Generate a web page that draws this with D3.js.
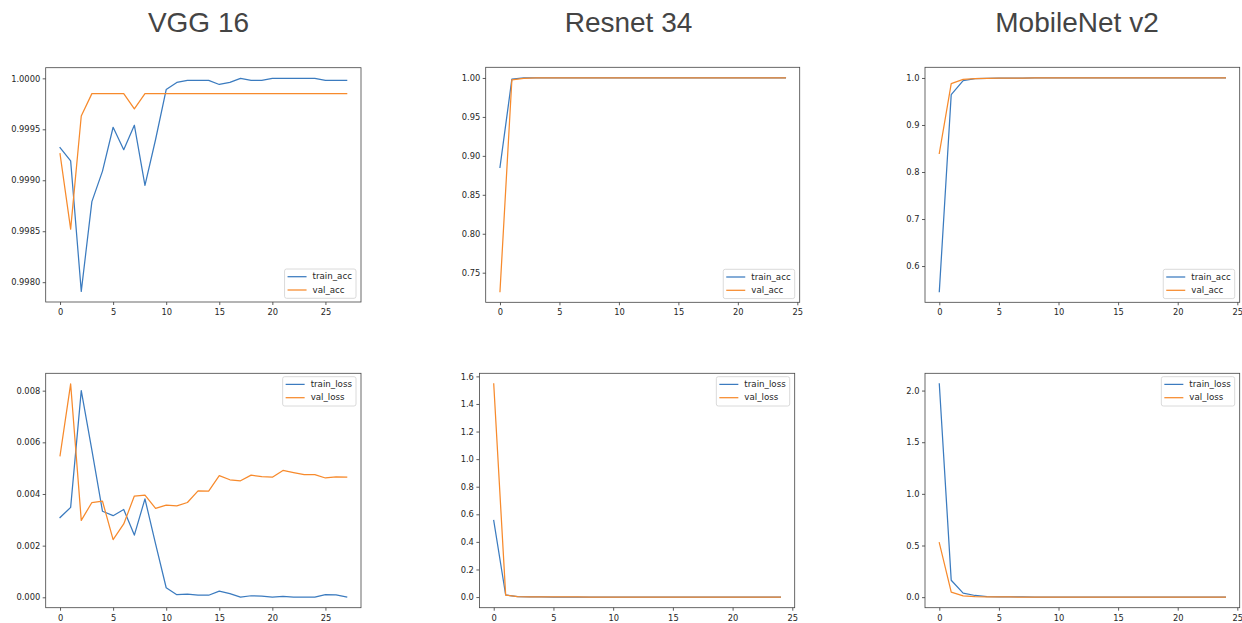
<!DOCTYPE html>
<html>
<head>
<meta charset="utf-8">
<script src="https://cdn.jsdelivr.net/npm/d3@7"></script>
<style>
  html, body { margin: 0; padding: 0; background: #fff; }
  svg { display: block; }
</style>
</head>
<body>
<svg id="chart" width="1242" height="623"></svg>
<script>
// ---------------- DATA ----------------
const titles = ["VGG 16", "Resnet 34", "MobileNet v2"];
const accLabels = ["train_acc", "val_acc"];
const lossLabels = ["train_loss", "val_loss"];
const xTicks = [0, 5, 10, 15, 20, 25];

const vggTrainAcc = [0.99932, 0.99919, 0.99791, 0.99879, 0.99909, 0.99952, 0.99930, 0.99954, 0.99895, 0.99940,
  0.99989, 0.99996, 0.99998, 0.99998, 0.99998, 0.99994, 0.99996, 1.00000, 0.99998, 0.99998,
  1.00000, 1.00000, 1.00000, 1.00000, 1.00000, 0.99998, 0.99998, 0.99998];
const vggValAcc = [0.99926, 0.99852, 0.99963, 0.99985, 0.99985, 0.99985, 0.99985, 0.99970, 0.99985, 0.99985,
  0.99985, 0.99985, 0.99985, 0.99985, 0.99985, 0.99985, 0.99985, 0.99985, 0.99985, 0.99985,
  0.99985, 0.99985, 0.99985, 0.99985, 0.99985, 0.99985, 0.99985, 0.99985];
const vggTrainLoss = [0.00309, 0.00348, 0.00800, 0.00570, 0.00333, 0.00316, 0.00340, 0.00241, 0.00381, 0.00207,
  0.00037, 0.00010, 0.00012, 0.00008, 0.00008, 0.00024, 0.00014, 0.00001, 0.00006, 0.00005,
  0.00001, 0.00004, 0.00001, 0.00001, 0.00001, 0.00010, 0.00009, 0.00001];
const vggValLoss = [0.00548, 0.00826, 0.00298, 0.00367, 0.00372, 0.00223, 0.00284, 0.00392, 0.00396, 0.00344,
  0.00357, 0.00354, 0.00367, 0.00412, 0.00411, 0.00471, 0.00455, 0.00451, 0.00473, 0.00467,
  0.00465, 0.00491, 0.00483, 0.00475, 0.00475, 0.00462, 0.00466, 0.00465];

const resTrainAcc = [0.8852, 0.9985, 1.0000, 1.0000, 1.0000, 1.0000, 1.0000, 1.0000, 1.0000, 1.0000,
  1.0000, 1.0000, 1.0000, 1.0000, 1.0000, 1.0000, 1.0000, 1.0000, 1.0000, 1.0000,
  1.0000, 1.0000, 1.0000, 1.0000, 1.0000];
const resValAcc = [0.7257, 0.9975, 0.9995, 1.0000, 1.0000, 1.0000, 1.0000, 1.0000, 1.0000, 1.0000,
  1.0000, 1.0000, 1.0000, 1.0000, 1.0000, 1.0000, 1.0000, 1.0000, 1.0000, 1.0000,
  1.0000, 1.0000, 1.0000, 1.0000, 1.0000];
const resTrainLoss = [0.555, 0.015, 0.003, 0.001, 0.0005, 0.0004, 0.0003, 0.0003, 0.0002, 0.0002,
  0.0002, 0.0002, 0.0001, 0.0001, 0.0001, 0.0001, 0.0001, 0.0001, 0.0001, 0.0001,
  0.0001, 0.0001, 0.0001, 0.0001, 0.0001];
const resValLoss = [1.545, 0.014, 0.004, 0.002, 0.001, 0.0008, 0.0006, 0.0005, 0.0004, 0.0004,
  0.0003, 0.0003, 0.0003, 0.0002, 0.0002, 0.0002, 0.0002, 0.0002, 0.0002, 0.0002,
  0.0002, 0.0002, 0.0002, 0.0002, 0.0002];

const mobTrainAcc = [0.5456, 0.9647, 0.9943, 0.9986, 0.9993, 0.9997, 0.9998, 0.9999, 1.0000, 1.0000,
  1.0000, 1.0000, 1.0000, 1.0000, 1.0000, 1.0000, 1.0000, 1.0000, 1.0000, 1.0000,
  1.0000, 1.0000, 1.0000, 1.0000, 1.0000];
const mobValAcc = [0.8396, 0.9880, 0.9970, 0.9986, 0.9993, 0.9996, 0.9998, 0.9999, 1.0000, 1.0000,
  1.0000, 1.0000, 1.0000, 1.0000, 1.0000, 1.0000, 1.0000, 1.0000, 1.0000, 1.0000,
  1.0000, 1.0000, 1.0000, 1.0000, 1.0000];
const mobTrainLoss = [2.064, 0.164, 0.0385, 0.016, 0.006, 0.003, 0.002, 0.0015, 0.001, 0.001,
  0.001, 0.001, 0.001, 0.001, 0.001, 0.001, 0.001, 0.001, 0.001, 0.001,
  0.001, 0.001, 0.001, 0.001, 0.001];
const mobValLoss = [0.526, 0.048, 0.013, 0.006, 0.003, 0.002, 0.0015, 0.001, 0.001, 0.001,
  0.001, 0.001, 0.001, 0.001, 0.001, 0.001, 0.001, 0.001, 0.001, 0.001,
  0.001, 0.001, 0.001, 0.001, 0.001];

const yTicksVggAcc = [0.9980, 0.9985, 0.9990, 0.9995, 1.0000];
const yTicksVggLoss = [0.000, 0.002, 0.004, 0.006, 0.008];
const yTicksResAcc = [0.75, 0.80, 0.85, 0.90, 0.95, 1.00];
const yTicksResLoss = [0.0, 0.2, 0.4, 0.6, 0.8, 1.0, 1.2, 1.4, 1.6];
const yTicksMobAcc = [0.6, 0.7, 0.8, 0.9, 1.0];
const yTicksMobLoss = [0.0, 0.5, 1.0, 1.5, 2.0];

// ---------------- LAYOUT / STYLE ----------------
const COLORS = ["#3b7bbf", "#f78a2c"];
const FONT = "'DejaVu Sans', sans-serif";
const TICK_FS = 8.3;
const LEG_FS = 8.7;

const panels = [
  { frame: [45.7, 361, 67.7, 302], series: [vggTrainAcc, vggValAcc], labels: accLabels, yTicks: yTicksVggAcc, fmt: ".4f", legend: "lower" },
  { frame: [45.7, 361, 373.3, 607.7], series: [vggTrainLoss, vggValLoss], labels: lossLabels, yTicks: yTicksVggLoss, fmt: ".3f", legend: "upper" },
  { frame: [485.7, 799.7, 67.3, 302.3], series: [resTrainAcc, resValAcc], labels: accLabels, yTicks: yTicksResAcc, fmt: ".2f", legend: "lower" },
  { frame: [479.4, 794.7, 373.3, 607.7], series: [resTrainLoss, resValLoss], labels: lossLabels, yTicks: yTicksResLoss, fmt: ".1f", legend: "upper" },
  { frame: [925, 1239.7, 67.3, 302.3], series: [mobTrainAcc, mobValAcc], labels: accLabels, yTicks: yTicksMobAcc, fmt: ".1f", legend: "lower" },
  { frame: [925, 1239.7, 373.3, 607.7], series: [mobTrainLoss, mobValLoss], labels: lossLabels, yTicks: yTicksMobLoss, fmt: ".1f", legend: "upper" }
];
const titlePos = [198.5, 628.5, 1077];

const svg = d3.select("#chart");

// titles
svg.selectAll("text.title").data(titles).join("text")
  .attr("class", "title")
  .attr("x", (d, i) => titlePos[i])
  .attr("y", 32)
  .attr("text-anchor", "middle")
  .attr("font-family", "'Liberation Sans', Arial, sans-serif")
  .attr("font-size", 28)
  .attr("fill", "#444444")
  .text(d => d);

panels.forEach(p => {
  const [x0, x1, y0, y1] = p.frame;
  const n = p.series[0].length;
  const xMax = n - 1;
  const xs = d3.scaleLinear().domain([-0.05 * xMax, xMax * 1.05]).range([x0, x1]);
  const all = p.series.flat();
  const lo = d3.min(all), hi = d3.max(all), pad = (hi - lo) * 0.05;
  const ys = d3.scaleLinear().domain([lo - pad, hi + pad]).range([y1, y0]);

  const g = svg.append("g");

  // lines
  const line = d3.line().x((d, i) => xs(i)).y(d => ys(d));
  p.series.forEach((s, k) => {
    g.append("path").datum(s)
      .attr("d", line)
      .attr("fill", "none")
      .attr("stroke", COLORS[k])
      .attr("stroke-width", 1.25)
      .attr("stroke-linejoin", "round")
      .attr("stroke-linecap", "square");
  });

  // axes
  const xa = g.append("g").attr("transform", `translate(0,${y1})`)
    .call(d3.axisBottom(xs).tickValues(xTicks).tickSize(3).tickPadding(4).tickFormat(d3.format("d")));
  const ya = g.append("g").attr("transform", `translate(${x0},0)`)
    .call(d3.axisLeft(ys).tickValues(p.yTicks).tickSize(3).tickPadding(2.5).tickFormat(d3.format(p.fmt)));
  [xa, ya].forEach(a => {
    a.select(".domain").remove();
    a.selectAll("line").attr("stroke", "#333").attr("stroke-width", 0.8);
    a.selectAll("text").attr("font-family", FONT).attr("font-size", TICK_FS).attr("fill", "#262626");
  });

  // frame
  g.append("rect")
    .attr("x", x0).attr("y", y0)
    .attr("width", x1 - x0).attr("height", y1 - y0)
    .attr("fill", "none").attr("stroke", "#444").attr("stroke-width", 0.8);

  // legend
  const lg = g.append("g");
  const box = lg.append("rect");
  const items = lg.selectAll("g.item").data(p.labels).join("g").attr("class", "item");
  items.append("line").attr("stroke", (d, i) => COLORS[i]).attr("stroke-width", 1.25);
  items.append("text").attr("font-family", FONT).attr("font-size", LEG_FS).attr("fill", "#262626")
    .attr("dy", "0.32em").text(d => d);
  let tw = 0;
  items.select("text").each(function () { tw = Math.max(tw, this.getComputedTextLength()); });
  const bw = 28 + tw + 4, bh = 29.3;
  const bx = x1 - 5 - bw;
  const by = p.legend === "lower" ? y1 - 3.7 - bh : y0 + 3.4;
  box.attr("x", bx).attr("y", by).attr("width", bw).attr("height", bh)
    .attr("rx", 2).attr("fill", "#fff").attr("fill-opacity", 0.8)
    .attr("stroke", "#d0d0d0").attr("stroke-width", 0.8);
  items.attr("transform", (d, i) => `translate(${bx},${by + 7.7 + i * 13.3})`);
  items.select("line").attr("x1", 3).attr("x2", 22).attr("y1", 0).attr("y2", 0);
  items.select("text").attr("x", 28);
});
</script>
</body>
</html>
